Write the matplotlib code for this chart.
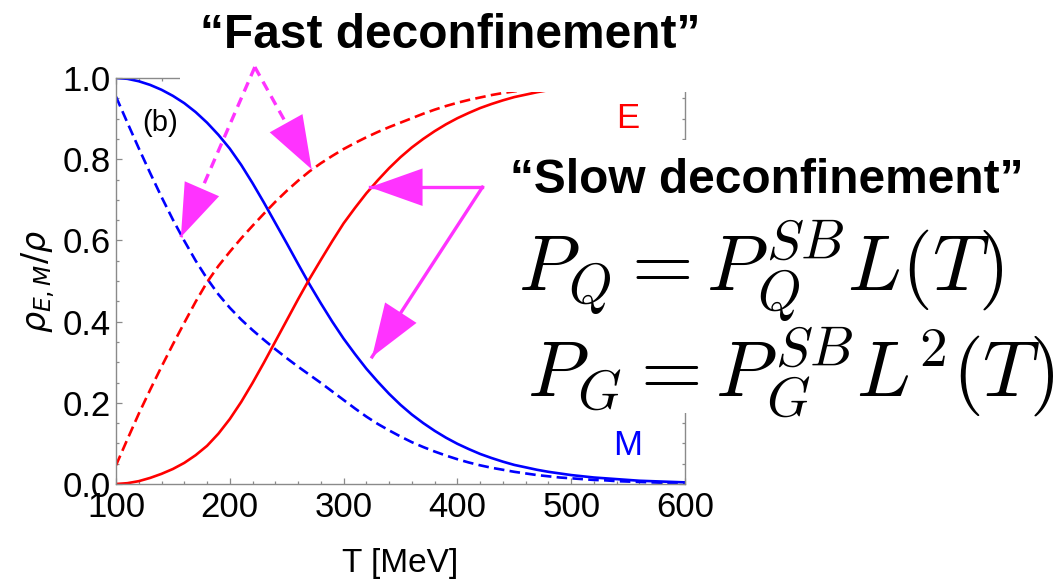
import numpy as np
import matplotlib
matplotlib.use("Agg")
import matplotlib.pyplot as plt
from matplotlib.patches import Rectangle

plt.rcParams['font.family'] = ['Liberation Sans', 'DejaVu Sans']

# temperature grid [MeV]
T = list(range(100, 601, 10))

# slow deconfinement (solid)
M_slow = [1.000, 0.998, 0.992, 0.983, 0.971, 0.956, 0.938, 0.916, 0.890, 0.860,
          0.826, 0.786, 0.741, 0.693, 0.643, 0.593, 0.542, 0.492, 0.445, 0.400,
          0.358, 0.320, 0.284, 0.252, 0.222, 0.195, 0.171, 0.150, 0.131, 0.114,
          0.099, 0.086, 0.074, 0.064, 0.055, 0.047, 0.041, 0.035, 0.030, 0.026,
          0.022, 0.019, 0.016, 0.014, 0.012, 0.010, 0.008, 0.007, 0.006, 0.005,
          0.004]
E_slow = [0.000, 0.002, 0.007, 0.015, 0.025, 0.037, 0.052, 0.071, 0.094, 0.124,
          0.160, 0.202, 0.249, 0.299, 0.351, 0.403, 0.455, 0.505, 0.552, 0.598,
          0.642, 0.680, 0.716, 0.748, 0.778, 0.805, 0.829, 0.850, 0.869, 0.886,
          0.901, 0.914, 0.926, 0.936, 0.945, 0.953, 0.959, 0.965, 0.970, 0.974,
          0.978, 0.981, 0.984, 0.986, 0.988, 0.990, 0.992, 0.993, 0.994, 0.995,
          0.996]

# fast deconfinement (dashed)
M_fast = [0.954, 0.890, 0.827, 0.766, 0.707, 0.651, 0.599, 0.550, 0.506, 0.467,
          0.434, 0.405, 0.379, 0.355, 0.332, 0.310, 0.289, 0.269, 0.249, 0.228,
          0.207, 0.186, 0.166, 0.148, 0.132, 0.117, 0.103, 0.091, 0.080, 0.070,
          0.061, 0.053, 0.046, 0.040, 0.035, 0.030, 0.026, 0.022, 0.019, 0.016,
          0.014, 0.012, 0.010, 0.009, 0.007, 0.006, 0.005, 0.004, 0.003, 0.003,
          0.002]
E_fast = [0.046, 0.110, 0.173, 0.232, 0.289, 0.344, 0.397, 0.449, 0.497, 0.537,
          0.572, 0.605, 0.636, 0.666, 0.695, 0.722, 0.747, 0.770, 0.790, 0.808,
          0.825, 0.840, 0.854, 0.867, 0.879, 0.890, 0.901, 0.912, 0.922, 0.931,
          0.939, 0.946, 0.952, 0.958, 0.963, 0.967, 0.971, 0.975, 0.978, 0.980,
          0.982, 0.984, 0.986, 0.988, 0.989, 0.990, 0.991, 0.992, 0.993, 0.994,
          0.995]

red = '#ff0000'
blue = '#0000ff'
mag = '#ff33ff'
gray = '#8a8a8a'

W, H = 1064, 579
fig = plt.figure(figsize=(W / 100, H / 100), dpi=100)
ax = fig.add_axes([116 / W, 1 - 484 / H, 569 / W, 406 / H])

ax.plot(T, M_slow, color=blue, lw=1.9, zorder=2)
ax.plot(T, E_slow, color=red, lw=1.9, zorder=2)
ax.plot(T, M_fast, color=blue, lw=1.9, dashes=(4, 2), zorder=2)
ax.plot(T, E_fast, color=red, lw=1.9, dashes=(4, 2), zorder=2)

ax.set_xlim(100, 600)
ax.set_ylim(0, 1)
ax.set_xticks(np.arange(100, 601, 100))
ax.set_xticks(np.arange(100, 601, 20), minor=True)
ax.set_yticks(np.arange(0, 1.01, 0.2))
ax.set_yticks(np.arange(0, 1.01, 0.05), minor=True)
ax.set_yticklabels(['0.0', '0.2', '0.4', '0.6', '0.8', '1.0'])
ax.tick_params(which='both', direction='in', top=True, right=True,
               color=gray, width=0.9, labelsize=25)
ax.tick_params(which='major', length=4.5)
ax.tick_params(which='minor', length=2.5)
ax.tick_params(axis='x', pad=5)
ax.tick_params(axis='y', pad=4)
for sp in ax.spines.values():
    sp.set_color(gray)
    sp.set_linewidth(1.0)

ax.set_xlabel('T [MeV]', fontsize=24, labelpad=17)
ax.set_ylabel(r'$\rho_{E,M}/\rho$', fontsize=24, labelpad=4)

ax.text(139, 0.89, '(b)', fontsize=21, ha='center', va='center')
ax.text(550, 0.90, 'E', color=red, fontsize=25, ha='center', va='center')
ax.text(550, 0.095, 'M', color=blue, fontsize=25, ha='center', va='center')

# white panels behind the captions
for x0, y0, x1, y1 in [(180, 0, W, 92), (495, 140, W, 413)]:
    ax.add_patch(Rectangle((x0 / W, 1 - y1 / H), (x1 - x0) / W, (y1 - y0) / H,
                           transform=fig.transFigure, facecolor='white',
                           edgecolor='none', zorder=3, clip_on=False))


def head(tip, start):
    ax.annotate('', xy=tip, xytext=start, zorder=6, annotation_clip=False,
                arrowprops=dict(arrowstyle='-|>,head_length=3.8,head_width=1.35',
                                mutation_scale=10, color=mag, lw=0,
                                shrinkA=0, shrinkB=0))


def back(tip, d, frac=0.35):
    return (tip[0] + (d[0] - tip[0]) * frac, tip[1] + (d[1] - tip[1]) * frac)


# "fast" arrows (dashed)
apex = (222, 1.027)
tip1 = (157, 0.608)
tip2 = (272, 0.775)
for tip in (tip1, tip2):
    ax.plot([apex[0], tip[0]], [apex[1], tip[1]], color=mag, lw=2.4,
            dashes=(3, 2), zorder=5, clip_on=False)
    head(tip, back(tip, apex))

# "slow" arrows (solid)
corner = (422, 0.731)
tip3 = (323, 0.731)
tip4 = (325, 0.313)
for tip in (tip3, tip4):
    ax.plot([corner[0], tip[0]], [corner[1], tip[1]], color=mag, lw=2.4,
            zorder=5, clip_on=False)
    head(tip, back(tip, corner, 0.6))

fig.text(450 / W, 1 - 48 / H, '\u201cFast deconfinement\u201d', fontsize=34.5,
         fontweight='bold', ha='center', va='baseline')
fig.text(510 / W, 1 - 193 / H, '\u201cSlow deconfinement\u201d', fontsize=34.5,
         fontweight='bold', ha='left', va='baseline')
fig.text(518 / W, 1 - 291 / H, r'$P_Q = P_Q^{SB}L(T)$', fontsize=57,
         math_fontfamily='cm', ha='left', va='baseline')
fig.text(527 / W, 1 - 396 / H, r'$P_G = P_G^{SB}L^2(T)$', fontsize=57,
         math_fontfamily='cm', ha='left', va='baseline')

fig.savefig('out.png', dpi=100)
